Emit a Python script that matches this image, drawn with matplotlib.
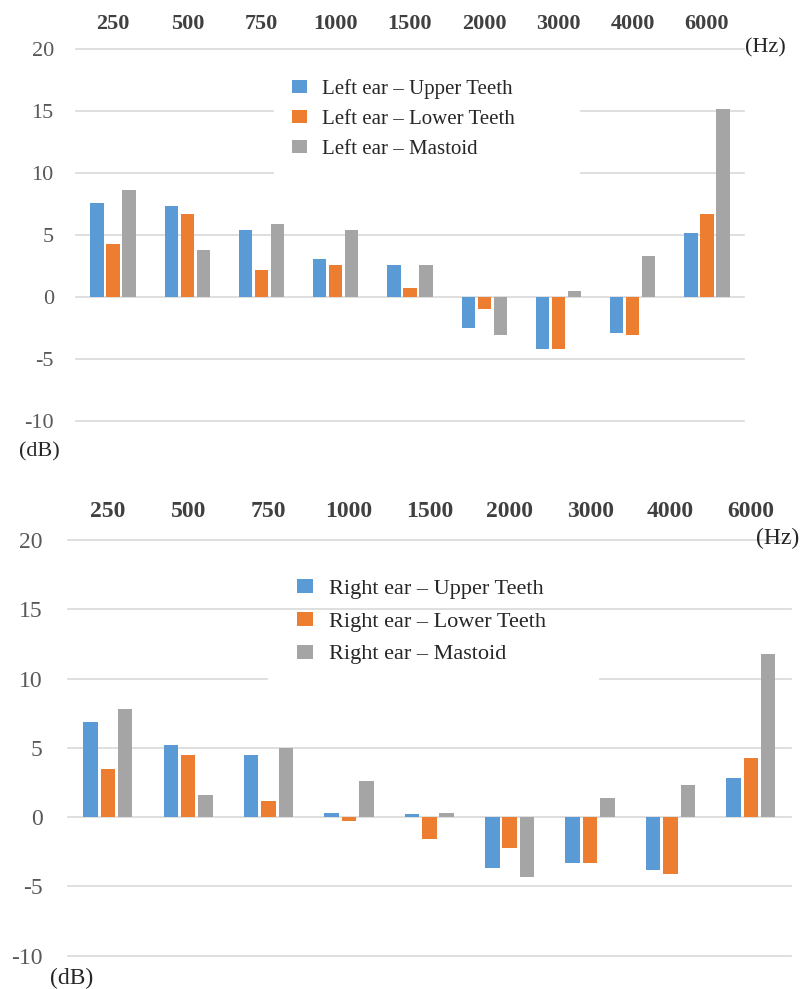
import matplotlib
matplotlib.use("Agg")
import matplotlib.pyplot as plt
from matplotlib.patches import Patch, Rectangle
import numpy as np

freqs = ["250", "500", "750", "1000", "1500", "2000", "3000", "4000", "6000"]

left_labels = ["Left ear – Upper Teeth", "Left ear – Lower Teeth", "Left ear – Mastoid"]
left_upper = [7.6, 7.3, 5.4, 3.1, 2.6, -2.5, -4.2, -2.9, 5.2]
left_lower = [4.3, 6.7, 2.2, 2.6, 0.7, -1.0, -4.2, -3.1, 6.7]
left_mastoid = [8.6, 3.8, 5.9, 5.4, 2.6, -3.1, 0.5, 3.3, 15.2]

right_labels = ["Right ear – Upper Teeth", "Right ear – Lower Teeth", "Right ear – Mastoid"]
right_upper = [6.9, 5.2, 4.5, 0.3, 0.2, -3.7, -3.3, -3.8, 2.8]
right_lower = [3.5, 4.5, 1.2, -0.3, -1.6, -2.2, -3.3, -4.1, 4.3]
right_mastoid = [7.8, 1.6, 5.0, 2.6, 0.3, -4.3, 1.4, 2.3, 11.8]

colors = ["#5b9bd5", "#ed7d31", "#a5a5a5"]
SERIF = "Liberation Serif"

W, H = 804, 989
fig = plt.figure(figsize=(W / 100, H / 100), dpi=100)


def px_ax(x0, x1, y0, y1):
    return fig.add_axes([x0 / W, 1 - y1 / H, (x1 - x0) / W, (y1 - y0) / H])


def draw(ax, series, labels, tick_fs, cat_fs, ypad, xpad, rect, leg_xy, leg_fs, lspace,
         hz_xy, db_xy, unit_fs):
    x = np.arange(len(freqs))
    bw = 0.18
    step = 0.216
    for i, (vals, lab) in enumerate(zip(series, labels)):
        ax.bar(x + (i - 1) * step, vals, width=bw, color=colors[i], zorder=3, label=lab)
    ax.set_xlim(-0.5, len(freqs) - 0.5)
    ax.set_ylim(-10, 20)
    ax.set_yticks(range(-10, 21, 5))
    ax.set_yticklabels([str(v) for v in range(-10, 21, 5)], fontfamily=SERIF,
                       fontsize=tick_fs, color="#595959")
    ax.set_xticks(x)
    ax.set_xticklabels(freqs, fontfamily=SERIF, fontsize=cat_fs, fontweight="bold",
                       color="#404040")
    ax.xaxis.set_ticks_position("top")
    ax.tick_params(axis="x", length=0, pad=xpad)
    ax.tick_params(axis="y", length=0, pad=ypad)
    for s in ax.spines.values():
        s.set_visible(False)
    ax.grid(axis="y", color="#d9d9d9", linewidth=1.2, zorder=0)
    ax.set_axisbelow(True)
    for gl in ax.get_ygridlines():
        gl.set_clip_on(False)
    ax.add_patch(Rectangle((rect[0], rect[2]), rect[1] - rect[0], rect[3] - rect[2],
                           transform=ax.transAxes, facecolor="white", edgecolor="none",
                           zorder=1))
    handles = [Patch(facecolor=c, edgecolor="none") for c in colors]
    ax.legend(handles, labels, loc="upper left",
              bbox_to_anchor=(leg_xy[0] / W, 1 - leg_xy[1] / H),
              bbox_transform=fig.transFigure, frameon=False, borderpad=0,
              borderaxespad=0, handlelength=0.72, handleheight=0.6,
              handletextpad=0.7, labelspacing=lspace,
              prop={"family": SERIF, "size": leg_fs}, labelcolor="#262626")
    fig.text(hz_xy[0] / W, 1 - hz_xy[1] / H, "(Hz)", fontfamily=SERIF, fontsize=unit_fs,
             color="#262626", ha="center", va="center")
    fig.text(db_xy[0] / W, 1 - db_xy[1] / H, "(dB)", fontfamily=SERIF, fontsize=unit_fs,
             color="#262626", ha="center", va="center")


ax1 = px_ax(76, 744, 49, 421)
draw(ax1, [left_upper, left_lower, left_mastoid], left_labels,
     tick_fs=16, cat_fs=16, ypad=16, xpad=11,
     rect=(0.296, 0.754, 0.52, 0.84), leg_xy=(292, 79), leg_fs=15, lspace=0.52,
     hz_xy=(765, 48), db_xy=(39, 452), unit_fs=16)

ax2 = px_ax(67.7, 791, 540, 955.7)
draw(ax2, [right_upper, right_lower, right_mastoid], right_labels,
     tick_fs=17, cat_fs=17, ypad=18, xpad=13,
     rect=(0.277, 0.735, 0.53, 0.83), leg_xy=(297, 579), leg_fs=16, lspace=0.58,
     hz_xy=(778, 538), db_xy=(72, 978), unit_fs=17)

fig.savefig("out.png", dpi=100)
